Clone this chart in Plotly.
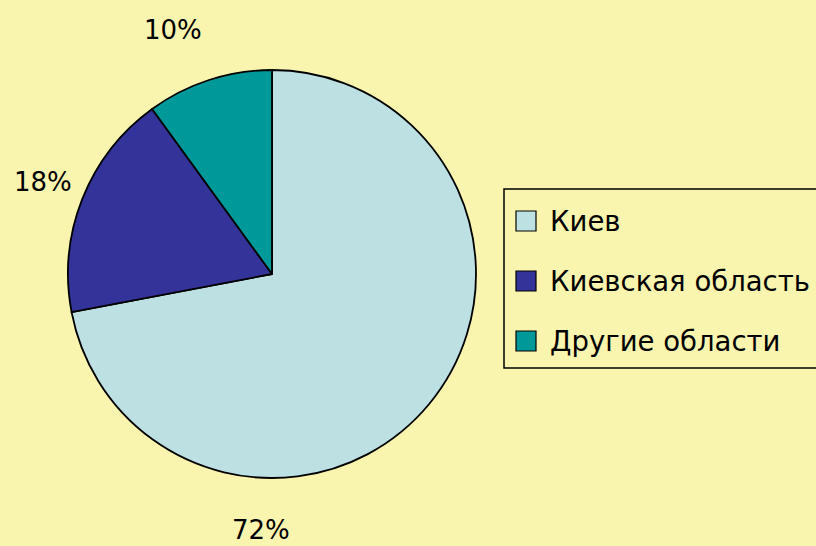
import plotly.graph_objects as go

labels = ["Киев", "Киевская область", "Другие области"]
values = [72, 18, 10]
colors = ["#BDE0E3", "#333399", "#009999"]
pct_text = ["72%", "18%", "10%"]

W, H = 816, 546
BG = "#F9F5AF"
FONT = "DejaVu Sans"

fig = go.Figure()
fig.add_trace(go.Pie(
    labels=labels, values=values, sort=False, direction="clockwise", rotation=0,
    marker=dict(colors=colors, line=dict(color="black", width=1.8)),
    textinfo="none", hoverinfo="label+percent", showlegend=False,
    domain=dict(x=[67 / W, 477 / W], y=[1 - 478 / H, 1 - 70 / H]),
))

# percentage labels placed around the pie (paper coords)
label_pos = [(261, 530), (43, 182), (173, 30)]
for t, (px, py) in zip(pct_text, label_pos):
    fig.add_annotation(x=px / W, y=1 - py / H, xref="paper", yref="paper",
                       text=t, showarrow=False, font=dict(family=FONT, size=26, color="black"),
                       xanchor="center", yanchor="middle")

# legend box
fig.add_shape(type="rect", xref="paper", yref="paper",
              x0=504 / W, x1=830 / W, y0=1 - 368 / H, y1=1 - 189 / H,
              line=dict(color="black", width=1.5), fillcolor=BG, layer="below")
row_y = [221, 281, 341]
for lab, col, ry in zip(labels, colors, row_y):
    fig.add_shape(type="rect", xref="paper", yref="paper",
                  x0=516 / W, x1=536 / W, y0=1 - (ry + 10) / H, y1=1 - (ry - 10) / H,
                  line=dict(color="black", width=1.2), fillcolor=col)
    fig.add_annotation(x=548 / W, y=1 - ry / H, xref="paper", yref="paper",
                       text=lab, showarrow=False, xanchor="left", yanchor="middle",
                       font=dict(family=FONT, size=27.5, color="black"))

fig.update_layout(
    width=W, height=H, margin=dict(l=0, r=0, t=0, b=0),
    paper_bgcolor=BG, plot_bgcolor=BG, showlegend=False,
)
fig.write_html(
    "out.html",
    config={"displayModeBar": False},
    post_script="document.body.style.margin='0';document.body.style.overflow='hidden';"
                "document.body.style.background='" + BG + "';",
)
